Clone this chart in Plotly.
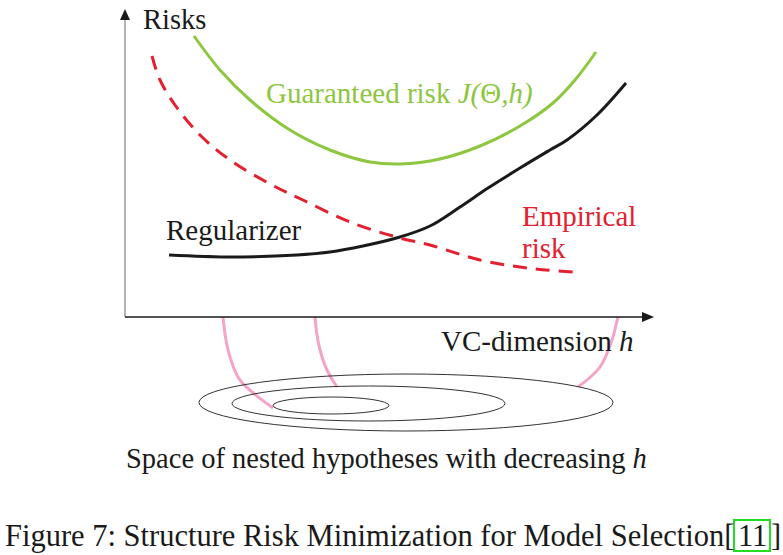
import plotly.graph_objects as go

# ---- data (diagram coordinates, pixel-like units, y grows downward) ----
guaranteed_x = [194, 220, 250, 290, 330, 370, 400, 440, 480, 520, 553, 575, 596]
guaranteed_y = [36, 70, 100, 130, 150, 162, 164, 159, 146, 126, 103, 80, 52]

regularizer_x = [169, 230, 297, 330, 363, 400, 430, 460, 488, 520, 550, 567, 597, 626]
regularizer_y = [255, 257, 255, 252, 246, 237, 226, 207, 188, 168, 150, 140, 115, 83]

empirical_x = [152, 160, 175, 200, 230, 270, 303, 350, 400, 430, 480, 527, 573]
empirical_y = [56, 80, 105, 135, 160, 184, 200, 222, 238, 245, 260, 268, 272]

pink1_x = [223, 226, 230, 240, 273]
pink1_y = [317, 340, 357, 380, 408]
pink2_x = [315, 317, 320, 327, 337]
pink2_y = [317, 335, 350, 370, 387]
pink3_x = [618, 616, 613, 600, 578]
pink3_y = [317, 325, 337, 367, 387]

ellipse_cx = [406, 368.5, 331]
ellipse_cy = [402.5, 403.5, 405.5]
ellipse_rx = [207, 136.5, 58]
ellipse_ry = [28.5, 17.5, 8.5]

GREEN = "#8DC63F"
RED = "#E2202F"
PINK = "#F5A3C7"
BLACK = "#1a1a1a"
SERIF = "Liberation Serif"

fig = go.Figure()

fig.add_trace(go.Scatter(x=guaranteed_x, y=guaranteed_y, mode="lines",
                         line=dict(color=GREEN, width=3, shape="spline"), hoverinfo="skip"))
fig.add_trace(go.Scatter(x=regularizer_x, y=regularizer_y, mode="lines",
                         line=dict(color=BLACK, width=3, shape="spline"), hoverinfo="skip"))
fig.add_trace(go.Scatter(x=empirical_x, y=empirical_y, mode="lines",
                         line=dict(color=RED, width=3, shape="spline", dash="14px,9px"), hoverinfo="skip"))
for px, py in [(pink1_x, pink1_y), (pink2_x, pink2_y), (pink3_x, pink3_y)]:
    fig.add_trace(go.Scatter(x=px, y=py, mode="lines",
                             line=dict(color=PINK, width=3, shape="spline"), hoverinfo="skip"))

shapes = []
for cx, cy, rx, ry in zip(ellipse_cx, ellipse_cy, ellipse_rx, ellipse_ry):
    shapes.append(dict(type="circle", xref="x", yref="y", x0=cx - rx, x1=cx + rx,
                       y0=cy - ry, y1=cy + ry, line=dict(color="#333333", width=1)))
# axes lines
shapes.append(dict(type="line", xref="x", yref="y", x0=125, x1=125, y0=317, y1=18,
                   line=dict(color="#666666", width=1)))
shapes.append(dict(type="line", xref="x", yref="y", x0=125, x1=645, y0=317, y1=317,
                   line=dict(color=BLACK, width=1.5)))
# arrow heads
shapes.append(dict(type="path", xref="x", yref="y", path="M 120,20 L 130,20 L 125,9 Z",
                   fillcolor=BLACK, line=dict(color=BLACK, width=0)))
shapes.append(dict(type="path", xref="x", yref="y", path="M 642,312 L 642,322 L 654,317 Z",
                   fillcolor=BLACK, line=dict(color=BLACK, width=0)))
# green reference box
shapes.append(dict(type="rect", xref="x", yref="y", x0=734, x1=770, y0=520, y1=551,
                   line=dict(color="#22DD22", width=2)))

def ann(text, x, y, color=BLACK, size=29, xanchor="left", family=SERIF):
    return dict(text=text, x=x, y=y, xref="x", yref="y", showarrow=False,
                xanchor=xanchor, yanchor="middle", font=dict(family=family, size=size, color=color))

annotations = [
    ann("Risks", 141, 19, size=28.5),
    ann("Guaranteed risk <i>J(</i>Θ<i>,h)</i>", 264, 93, color=GREEN),
    ann("Regularizer", 164, 230),
    ann("Empirical", 520, 216, color=RED),
    ann("risk", 520, 248, color=RED),
    ann("VC-dimension <i>h</i>", 439, 341),
    ann("Space of nested hypotheses with decreasing <i>h</i>", 124, 458, size=28.5),
    ann("Figure 7: Structure Risk Minimization for Model Selection[", 736, 536, size=30.5, xanchor="right"),
    ann("11", 752, 536, size=30.5, xanchor="center"),
    ann("]", 769, 536, size=30.5, xanchor="left"),
]

fig.update_layout(
    width=783, height=555,
    margin=dict(l=0, r=0, t=0, b=0),
    paper_bgcolor="white", plot_bgcolor="white",
    showlegend=False,
    xaxis=dict(range=[0, 783], visible=False, fixedrange=True),
    yaxis=dict(range=[555, 0], visible=False, fixedrange=True),
    shapes=shapes, annotations=annotations,
)

fig.write_html("out.html", config={"displayModeBar": False, "staticPlot": True},
               post_script="document.body.style.margin='0px';document.body.style.overflow='hidden';")
